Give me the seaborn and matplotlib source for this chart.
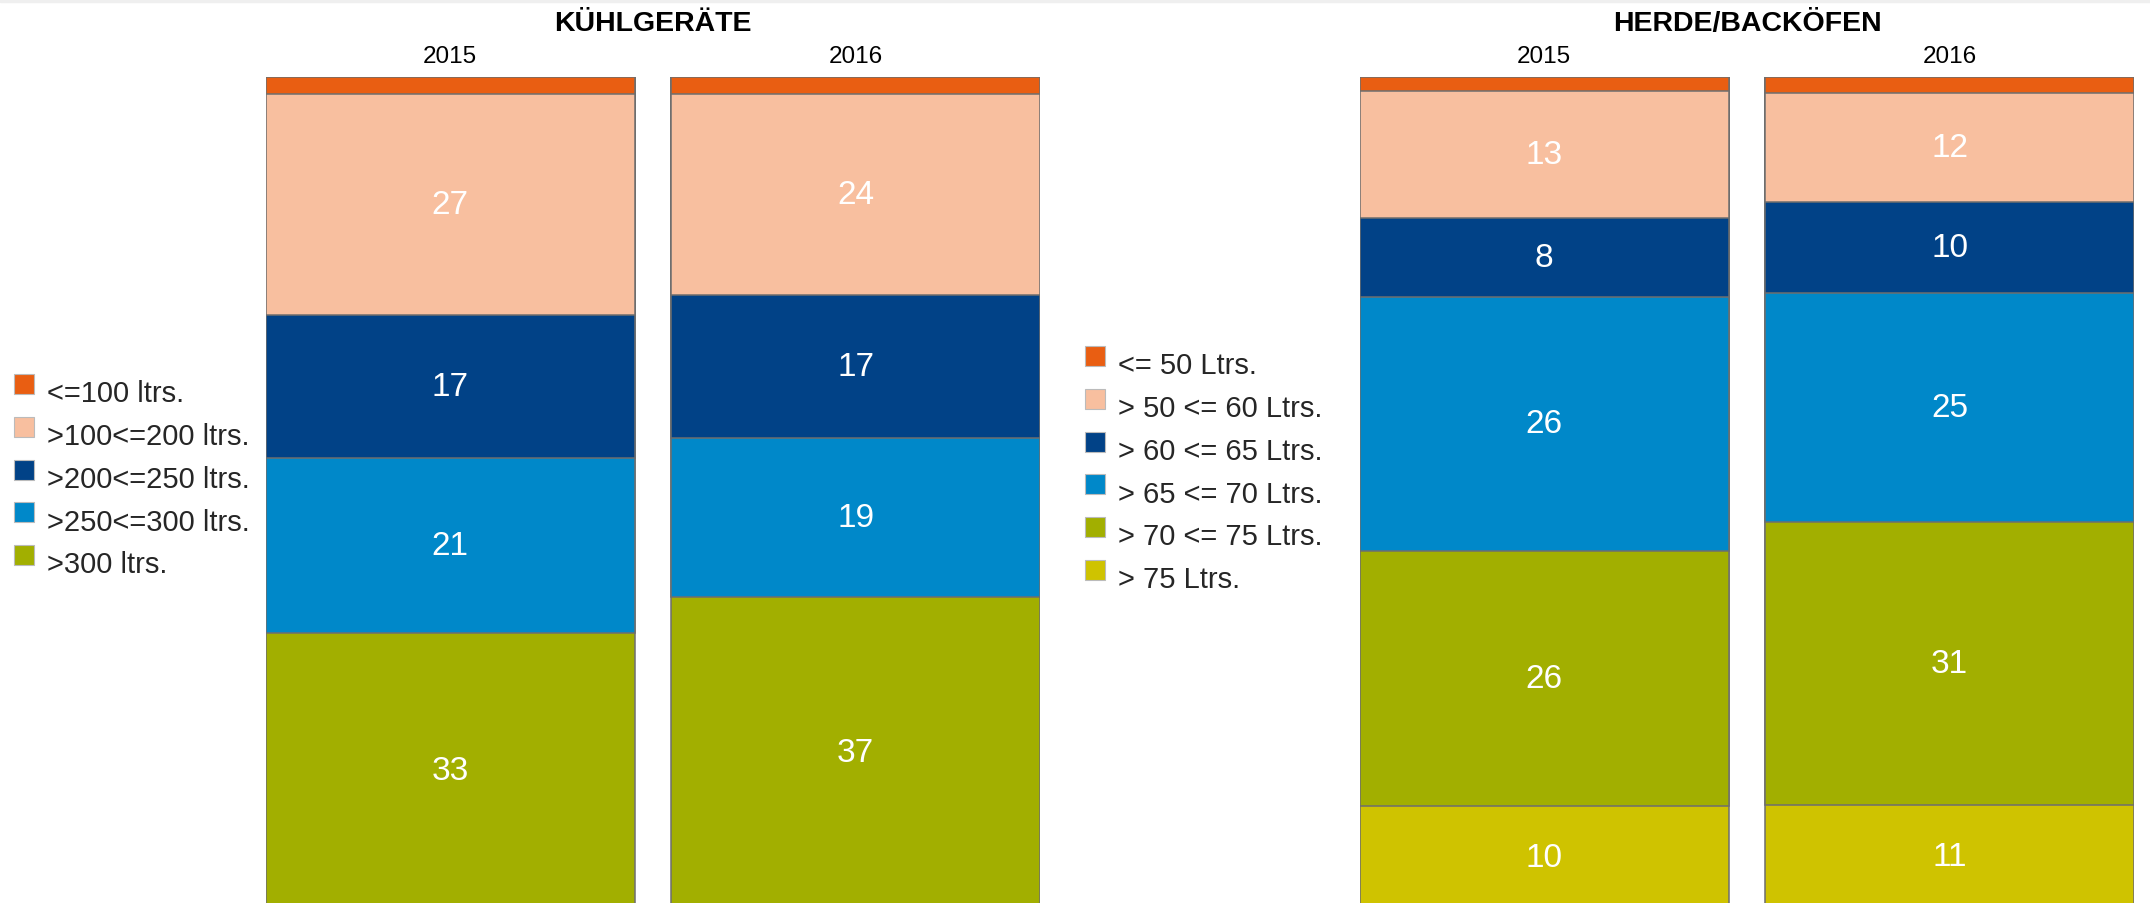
import numpy as np
import matplotlib
matplotlib.use("Agg")
import matplotlib.pyplot as plt
import seaborn as sns
from matplotlib.patches import Patch, Rectangle
from matplotlib.legend_handler import HandlerPatch

# data (top segment first)
years = ["2015", "2016"]

kuehl_labels = ["<=100 ltrs.", ">100<=200 ltrs.", ">200<=250 ltrs.", ">250<=300 ltrs.", ">300 ltrs."]
kuehl_2015 = [2, 26.6, 17.2, 21.1, 33]
kuehl_2016 = [2, 24, 17, 19, 37]

herd_labels = ["<= 50 Ltrs.", "> 50 <= 60 Ltrs.", "> 60 <= 65 Ltrs.", "> 65 <= 70 Ltrs.", "> 70 <= 75 Ltrs.", "> 75 Ltrs."]
herd_2015 = [1.4, 13, 8, 26, 26, 10.4]
herd_2016 = [1.7, 12, 10, 25, 31, 11.3]

colors = ["#E95E12", "#F8BF9F", "#014287", "#0088C9", "#A2AF00", "#CFC300"]

sns.set_theme(style="white")
plt.rcParams["font.family"] = ["Liberation Sans", "DejaVu Sans"]

W, H = 2150, 904
fig = plt.figure(figsize=(W / 100, H / 100), dpi=100)

# light band on top
fig.patches.append(Rectangle((0, 1 - 3 / H), 1, 3 / H, transform=fig.transFigure,
                             color="#EFEFEF", zorder=0))

bw = 0.909
top_px, bot_px = 78, 909


def panel(left_px, right_px, title, labels, v15, v16):
    ax = fig.add_axes([left_px / W, 1 - bot_px / H, (right_px - left_px) / W, (bot_px - top_px) / H])
    data = np.array([v15, v16], dtype=float)
    share = data / data.sum(axis=1, keepdims=True) * 100
    cum = np.cumsum(share, axis=1)
    n = len(labels)
    # draw largest cumulative first so the smaller ones sit on top
    for i in range(n - 1, -1, -1):
        sns.barplot(x=years, y=cum[:, i], color=colors[i], width=bw, saturation=1,
                    edgecolor="#6E6E6E", linewidth=1.1, ax=ax)
    for j in range(2):
        for i in range(1, n):
            mid = cum[j, i] - share[j, i] / 2
            ax.text(j, mid, f"{data[j, i]:.0f}", ha="center", va="center",
                    color="white", fontsize=24)
    ax.set_ylim(100, 0)
    ax.set_xlim(-bw / 2, 1 + bw / 2)
    ax.xaxis.tick_top()
    ax.tick_params(axis="x", length=0, pad=7, labelsize=17.5, colors="black")
    ax.set_yticks([])
    ax.set_xlabel("")
    ax.set_ylabel("")
    for s in ax.spines.values():
        s.set_visible(False)
    fig.text((left_px + right_px) / 2 / W, 1 - 24 / H, title, ha="center", va="center",
             fontsize=20.5, fontweight="bold", color="black")
    return ax


panel(266, 1040, "KÜHLGERÄTE", kuehl_labels, kuehl_2015, kuehl_2016)
panel(1360, 2134, "HERDE/BACKÖFEN", herd_labels, herd_2015, herd_2016)


def raised_box(legend, orig_handle, xdescent, ydescent, width, height, fontsize):
    # squares sit a little higher than the text, as in the original
    return Rectangle((-xdescent, -ydescent + 0.24 * fontsize), width, height)


def legend(labels, x_px, y_px):
    handles = [Patch(facecolor=colors[i], edgecolor="#BBBBBB", linewidth=0.8) for i in range(len(labels))]
    fig.legend(handles, labels, loc="upper left", bbox_to_anchor=(x_px / W, 1 - y_px / H),
               frameon=False, fontsize=21, handlelength=0.68, handleheight=0.68,
               handletextpad=0.44, labelspacing=0.51, borderpad=0, borderaxespad=0,
               handler_map={Patch: HandlerPatch(patch_func=raised_box)})


legend(kuehl_labels, 14, 380)
legend(herd_labels, 1085, 352)

fig.savefig("out.png", dpi=100)
